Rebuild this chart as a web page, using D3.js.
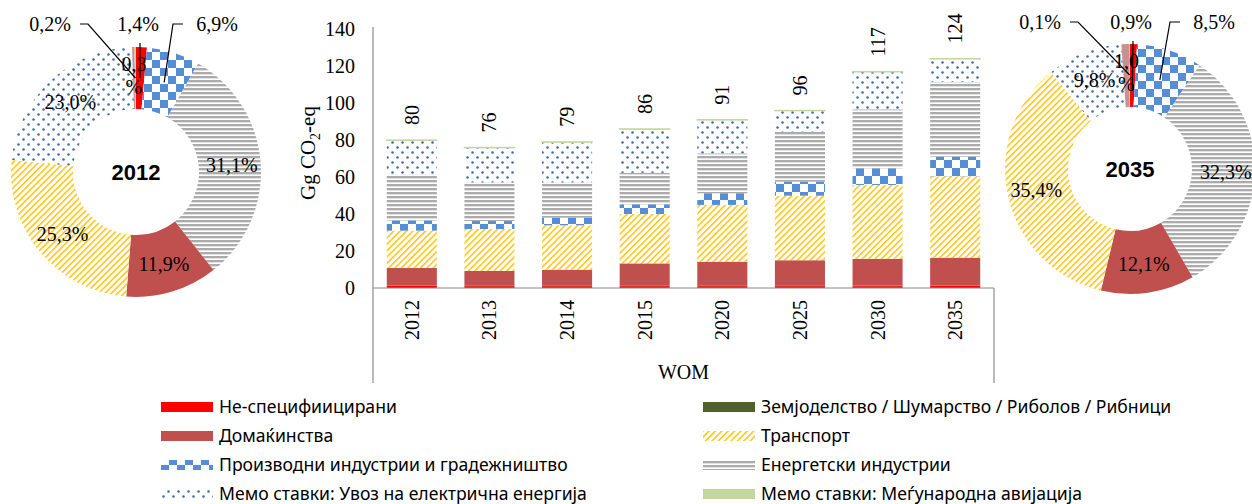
<!DOCTYPE html>
<html>
<head>
<meta charset="utf-8">
<script src="https://cdn.jsdelivr.net/npm/d3@7"></script>
<style>
  body { margin: 0; background: #fff; }
  svg { display: block; }
</style>
</head>
<body>
<div id="chart"></div>
<script>
/* DATA */
const years = ["2012", "2013", "2014", "2015", "2020", "2025", "2030", "2035"];

// stacked from bottom to top
const seriesKeys = ["unspec", "agri", "households", "transport", "manuf", "energy", "memoImport", "memoAviation"];
const seriesNames = [
  "Не-специфиицирани",
  "Земјоделство / Шумарство / Риболов / Рибници",
  "Домаќинства",
  "Транспорт",
  "Производни индустрии и градежништво",
  "Енергетски индустрии",
  "Мемо ставки: Увоз на електрична  енергија",
  "Мемо ставки: Меѓународна авијација"
];

const unspec       = [1.1, 1.0, 1.0, 1.0, 1.0, 1.0, 1.0, 1.1];
const agri         = [0.2, 0.2, 0.2, 0.2, 0.2, 0.2, 0.3, 0.2];
const households   = [9.5, 8.0, 8.7, 12.1, 13.0, 13.8, 14.4, 15.1];
const transport    = [20.2, 22.7, 24.0, 26.7, 30.7, 34.9, 40.0, 44.0];
const manuf        = [5.5, 4.3, 4.1, 5.2, 6.3, 7.6, 9.0, 10.6];
const energy       = [24.9, 20.9, 19.1, 17.1, 21.6, 27.0, 31.9, 40.4];
const memoImport   = [18.4, 18.7, 21.7, 23.5, 18.0, 11.3, 20.2, 12.4];
const memoAviation = [0.2, 0.2, 0.2, 0.2, 0.2, 0.2, 0.2, 0.2];

const yTicks = [0, 20, 40, 60, 80, 100, 120, 140];

// donuts, clockwise from 12 o'clock
const donutKeys = ["unspec", "manuf", "energy", "households", "transport", "memoImport", "other", "memoAviation"];
const donut2012 = [1.4, 6.9, 31.1, 11.9, 25.3, 23.0, 0.3, 0.2];
const donut2035 = [0.9, 8.5, 32.3, 12.1, 35.4, 9.8, 1.0, 0.1];

/* LAYOUT */
const W = 1252, H = 504;
const serif = "'Liberation Serif', 'Times New Roman', serif";
const sans = "'Noto Sans', 'Liberation Sans', sans-serif";

const svg = d3.select("#chart").append("svg").attr("width", W).attr("height", H);
const defs = svg.append("defs");

// patterns
const pYellow = defs.append("pattern").attr("id", "p-transport")
  .attr("patternUnits", "userSpaceOnUse").attr("width", 4.5).attr("height", 4.5)
  .attr("patternTransform", "rotate(45)");
pYellow.append("rect").attr("width", 4.5).attr("height", 4.5).attr("fill", "#fff");
pYellow.append("rect").attr("width", 1.6).attr("height", 4.5).attr("fill", "#FFC619");

const pCheck = defs.append("pattern").attr("id", "p-manuf")
  .attr("patternUnits", "userSpaceOnUse").attr("width", 16).attr("height", 16);
pCheck.append("rect").attr("width", 16).attr("height", 16).attr("fill", "#fff");
pCheck.append("rect").attr("width", 8).attr("height", 8).attr("fill", "#558ED5");
pCheck.append("rect").attr("x", 8).attr("y", 8).attr("width", 8).attr("height", 8).attr("fill", "#558ED5");

const pGray = defs.append("pattern").attr("id", "p-energy")
  .attr("patternUnits", "userSpaceOnUse").attr("width", 4).attr("height", 4);
pGray.append("rect").attr("width", 4).attr("height", 4).attr("fill", "#fff");
pGray.append("rect").attr("width", 4).attr("height", 2).attr("fill", "#ABABAB");
pGray.append("rect").attr("y", 2).attr("width", 4).attr("height", 1).attr("fill", "#E2E2E2");

const pDots = defs.append("pattern").attr("id", "p-memoImport")
  .attr("patternUnits", "userSpaceOnUse").attr("width", 10).attr("height", 10);
pDots.append("rect").attr("width", 10).attr("height", 10).attr("fill", "#fff");
pDots.append("circle").attr("cx", 2.5).attr("cy", 2.5).attr("r", 1.25).attr("fill", "#3D68A6");
pDots.append("circle").attr("cx", 7.5).attr("cy", 7.5).attr("r", 1.25).attr("fill", "#3D68A6");

const fills = {
  unspec: "#FF0000",
  agri: "#4F6228",
  households: "#C0504D",
  transport: "url(#p-transport)",
  manuf: "url(#p-manuf)",
  energy: "url(#p-energy)",
  memoImport: "url(#p-memoImport)",
  memoAviation: "#C3D69B",
  other: "#C9918B"
};

const fmtPct = v => d3.format(".1f")(v).replace(".", ",") + "%";

/* DONUTS */
function drawDonut(values, cfg) {
  const g = svg.append("g").attr("transform", `translate(${cfg.cx},${cfg.cy})`);
  const data = values.map((v, i) => ({ key: donutKeys[i], value: v, i }));
  const pie = d3.pie().sort(null).value(d => d.value);
  const arcs = pie(data);
  const arc = d3.arc().innerRadius(cfg.r0).outerRadius(cfg.r1);
  const labelArc = d3.arc().innerRadius(96).outerRadius(96);

  g.selectAll("path.slice")
    .data(arcs)
    .join("path")
    .attr("class", "slice")
    .attr("d", arc)
    .attr("fill", d => fills[d.data.key]);

  // centre title
  g.append("text")
    .attr("text-anchor", "middle")
    .attr("dy", "0.35em")
    .attr("font-family", "'Liberation Sans', Arial, sans-serif")
    .attr("font-weight", "bold")
    .attr("font-size", 22)
    .text(cfg.title);

  arcs.forEach(a => {
    const txt = fmtPct(a.data.value);
    const [ex, ey] = labelArc.centroid(a);
    const call = cfg.callouts.find(c => c.i === a.data.i);
    if (call) {
      const tx = call.dx, ty = call.dy;
      g.append("text")
        .attr("x", tx).attr("y", ty).attr("dy", "0.35em")
        .attr("text-anchor", "middle")
        .attr("font-family", serif).attr("font-size", 20)
        .text(txt);
      let path;
      const endR = call.endR || 94;
      const [lx, ly] = d3.arc().innerRadius(endR).outerRadius(endR).centroid(a);
      if (call.kind === "below") path = `M${tx + 2},${ty + 19}L${lx},${ly}`;
      else if (call.kind === "left") path = `M${tx - 34},${ty}H${tx - 44}L${lx},${ly}`;
      else path = `M${tx + 30},${ty}H${tx + 38}L${lx},${ly}`;
      g.append("path").attr("d", path).attr("fill", "none")
        .attr("stroke", "#000").attr("stroke-width", 1.2);
    } else if (cfg.wrap.includes(a.data.i)) {
      const parts = [txt.slice(0, -1), "%"];
      parts.forEach((p, k) => {
        g.append("text")
          .attr("x", ex).attr("y", ey + (k === 0 ? -12 : 11)).attr("dy", "0.35em")
          .attr("text-anchor", "middle")
          .attr("font-family", serif).attr("font-size", 20)
          .text(p);
      });
    } else {
      g.append("text")
        .attr("x", ex).attr("y", ey).attr("dy", "0.35em")
        .attr("text-anchor", "middle")
        .attr("font-family", serif).attr("font-size", 20)
        .text(txt);
    }
  });
}

drawDonut(donut2012, {
  cx: 136, cy: 172, r0: 63, r1: 125, title: "2012", wrap: [6],
  callouts: [
    { i: 0, kind: "below", dx: 2, dy: -148 },
    { i: 1, kind: "left", dx: 81, dy: -148 },
    { i: 7, kind: "right", dx: -86, dy: -148 }
  ]
});

drawDonut(donut2035, {
  cx: 1130, cy: 169, r0: 62, r1: 125, title: "2035", wrap: [6],
  callouts: [
    { i: 0, kind: "below", dx: 1, dy: -147, endR: 78 },
    { i: 1, kind: "left", dx: 84, dy: -147 },
    { i: 7, kind: "right", dx: -90, dy: -147 }
  ]
});

/* BAR CHART */
const x0 = 373, x1 = 994;
const xScale = d3.scaleBand().domain(years).range([x0, x1])
  .paddingInner(0.355).paddingOuter(0.1775);
const yScale = d3.scaleLinear().domain([0, 140]).range([288, 29]);

const table = years.map((yr, i) => {
  const row = { year: yr };
  row.unspec = unspec[i];
  row.agri = agri[i];
  row.households = households[i];
  row.transport = transport[i];
  row.manuf = manuf[i];
  row.energy = energy[i];
  row.memoImport = memoImport[i];
  row.memoAviation = memoAviation[i];
  return row;
});
const stacked = d3.stack().keys(seriesKeys)(table);

const bars = svg.append("g");
bars.selectAll("g.series")
  .data(stacked)
  .join("g")
  .attr("class", "series")
  .attr("fill", d => fills[d.key])
  .each(function (s) {
    d3.select(this).selectAll("rect")
      .data(s)
      .join("rect")
      .attr("x", d => xScale(d.data.year))
      .attr("width", xScale.bandwidth())
      .attr("y", d => yScale(d[1]))
      .attr("height", d => Math.max(0, yScale(d[0]) - yScale(d[1])))
      .attr("stroke", s.key === "memoAviation" ? "#C3D69B" : "none")
      .attr("stroke-width", s.key === "memoAviation" ? 1.2 : 0);
  });

// totals, rotated
bars.selectAll("text.total")
  .data(table)
  .join("text")
  .attr("class", "total")
  .attr("transform", d => {
    const tot = d3.sum(seriesKeys, k => d[k]);
    return `translate(${xScale(d.year) + xScale.bandwidth() / 2},${yScale(tot) - 15}) rotate(-90)`;
  })
  .attr("dy", "0.35em")
  .attr("text-anchor", "start")
  .attr("font-family", serif).attr("font-size", 20)
  .text(d => Math.round(d3.sum(seriesKeys, k => d[k])));

// axes
const axisColor = "#8C8C8C";
svg.append("line")
  .attr("x1", x0).attr("x2", x0)
  .attr("y1", yScale(140) - 2).attr("y2", 383)
  .attr("stroke", axisColor).attr("stroke-width", 1.2);
svg.append("line")
  .attr("x1", x1).attr("x2", x1)
  .attr("y1", yScale(0)).attr("y2", 383)
  .attr("stroke", axisColor).attr("stroke-width", 1.2);
svg.append("line")
  .attr("x1", x0).attr("x2", x1)
  .attr("y1", yScale(0)).attr("y2", yScale(0))
  .attr("stroke", axisColor).attr("stroke-width", 1.2);

const yAxis = d3.axisLeft(yScale).tickValues(yTicks).tickSize(0).tickPadding(18);
svg.append("g")
  .attr("transform", `translate(${x0},0)`)
  .call(yAxis)
  .call(g => g.select(".domain").remove())
  .call(g => g.selectAll("text")
    .attr("font-family", serif).attr("font-size", 20).attr("fill", "#000"));

const xAxis = d3.axisBottom(xScale).tickSize(0).tickPadding(0);
svg.append("g")
  .attr("transform", `translate(0,${yScale(0)})`)
  .call(xAxis)
  .call(g => g.select(".domain").remove())
  .call(g => g.selectAll("text")
    .attr("font-family", serif).attr("font-size", 20).attr("fill", "#000")
    .attr("text-anchor", "end")
    .attr("transform", "translate(0,12) rotate(-90)")
    .attr("x", 0).attr("y", 0).attr("dy", "0.35em"));

svg.append("text")
  .attr("x", (x0 + x1) / 2).attr("y", 372).attr("dy", "0.35em")
  .attr("text-anchor", "middle")
  .attr("font-family", serif).attr("font-size", 20)
  .text("WOM");

const yTitle = svg.append("text")
  .attr("transform", "translate(308,153) rotate(-90)")
  .attr("text-anchor", "middle")
  .attr("dy", "0.35em")
  .attr("font-family", serif).attr("font-size", 21);
yTitle.append("tspan").text("Gg CO");
yTitle.append("tspan").attr("font-size", 14).attr("dy", 5).text("2");
yTitle.append("tspan").attr("dy", -5).text("-eq");

/* LEGEND */
const legend = svg.append("g");
const legendItems = seriesKeys.map((k, i) => ({ key: k, name: seriesNames[i], col: i % 2, row: Math.floor(i / 2) }));
const colX = [161, 703];
const li = legend.selectAll("g.item")
  .data(legendItems)
  .join("g")
  .attr("class", "item")
  .attr("transform", d => `translate(${colX[d.col]},${407 + d.row * 29})`);
li.append("rect")
  .attr("x", 0).attr("y", -5).attr("width", 52).attr("height", 10)
  .attr("fill", d => fills[d.key]);
li.append("text")
  .attr("x", 58).attr("dy", "0.35em")
  .attr("font-family", sans).attr("font-size", 17.6)
  .attr("fill", "#000")
  .text(d => d.name);
</script>
</body>
</html>
